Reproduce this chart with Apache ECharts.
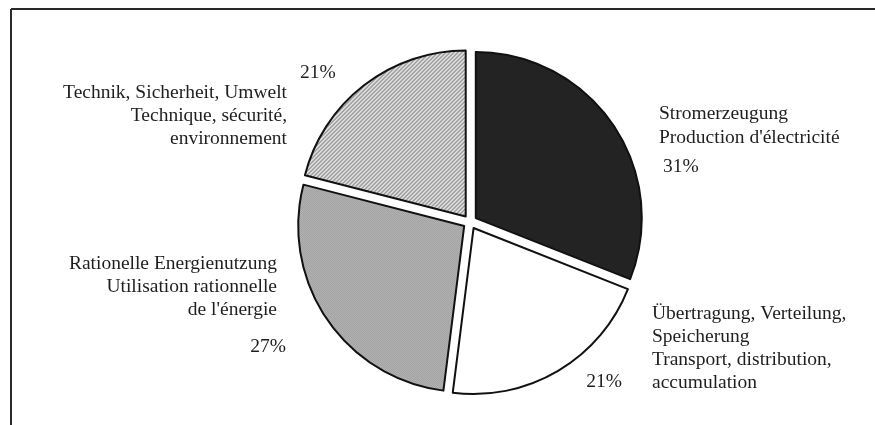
<!DOCTYPE html>
<html>
<head>
<meta charset="utf-8">
<script src="https://cdn.jsdelivr.net/npm/echarts@6/dist/echarts.min.js"></script>
<style>
html,body{margin:0;padding:0;background:#fff;}
#c{width:875px;height:425px;}
</style>
</head>
<body>
<div id="c"></div>
<script>
// ---- data ----
const categories = [
  "Stromerzeugung\nProduction d'électricité",
  "Übertragung, Verteilung,\nSpeicherung\nTransport, distribution,\naccumulation",
  "Rationelle Energienutzung\nUtilisation rationnelle\nde l'énergie",
  "Technik, Sicherheit, Umwelt\nTechnique, sécurité,\nenvironnement"
];
const values = [31, 21, 27, 21];

// ---- styles / layout (not data) ----
function makePattern(kind) {
  const cv = document.createElement('canvas');
  if (kind === 'hatch') {
    cv.width = 4; cv.height = 4;
    const g = cv.getContext('2d');
    g.fillStyle = '#f4f4f4'; g.fillRect(0, 0, 4, 4);
    g.strokeStyle = '#6a6a6a'; g.lineWidth = 1.1;
    g.beginPath();
    g.moveTo(-1, 5); g.lineTo(5, -1);
    g.moveTo(-1, 1); g.lineTo(1, -1);
    g.moveTo(3, 5); g.lineTo(5, 3);
    g.stroke();
  } else {
    cv.width = 2; cv.height = 2;
    const g = cv.getContext('2d');
    g.fillStyle = '#bbbbbb'; g.fillRect(0, 0, 2, 2);
    g.fillStyle = '#9a9a9a'; g.fillRect(0, 0, 1, 1); g.fillRect(1, 1, 1, 1);
  }
  return { image: cv, repeat: 'repeat' };
}
const fills = ['#232323', '#ffffff', makePattern('dots'), makePattern('hatch')];

const nameLayout = [
  { x: 659, y: 102, align: 'left', lh: 24 },
  { x: 652, y: 302, align: 'left', lh: 23 },
  { x: 277, y: 252, align: 'right', lh: 23 },
  { x: 287, y: 81, align: 'right', lh: 23 }
];
const pctLayout = [
  { x: 663, y: 167, align: 'left' },
  { x: 622, y: 382, align: 'right' },
  { x: 286, y: 347, align: 'right' },
  { x: 300, y: 73, align: 'left' }
];

const font = { fontFamily: '"Liberation Serif", "Times New Roman", serif', fontSize: 19.5, color: '#1e1e1e' };

const chart = echarts.init(document.getElementById('c'), null, { renderer: 'canvas' });
const center = [470, 222];
const radius = 166;

function labelSeries(fmt, layout, vAlign) {
  return {
    type: 'pie',
    center: center,
    radius: radius,
    startAngle: 90,
    clockwise: true,
    silent: true,
    avoidLabelOverlap: false,
    emphasis: { disabled: true },
    data: categories.map((n, i) => ({
      name: n, value: values[i],
      itemStyle: { color: 'rgba(0,0,0,0)', borderWidth: 0 },
      label: { lineHeight: layout[i].lh || 23 }
    })),
    label: Object.assign({ show: true, position: 'outside', formatter: fmt }, font),
    labelLine: { show: false },
    labelLayout: function (p) {
      const l = layout[p.dataIndex];
      return { x: l.x, y: l.y, align: l.align, verticalAlign: vAlign };
    }
  };
}

chart.setOption({
  animation: false,
  backgroundColor: '#ffffff',
  graphic: [
    { type: 'line', shape: { x1: 11, y1: 9, x2: 875, y2: 9 }, style: { stroke: '#2a2a2a', lineWidth: 2 } },
    { type: 'line', shape: { x1: 11, y1: 9, x2: 11, y2: 425 }, style: { stroke: '#2a2a2a', lineWidth: 2 } }
  ],
  series: [
    {
      type: 'pie',
      center: center,
      radius: radius,
      startAngle: 90,
      clockwise: true,
      selectedMode: 'multiple',
      selectedOffset: 7,
      silent: true,
      emphasis: { disabled: true },
      data: categories.map((n, i) => ({
        name: n, value: values[i], selected: true,
        itemStyle: { color: fills[i], borderColor: '#111', borderWidth: 2 }
      })),
      label: { show: false },
      labelLine: { show: false }
    },
    labelSeries('{b}', nameLayout, 'top'),
    labelSeries('{d}%', pctLayout, 'middle')
  ]
});
</script>
</body>
</html>
